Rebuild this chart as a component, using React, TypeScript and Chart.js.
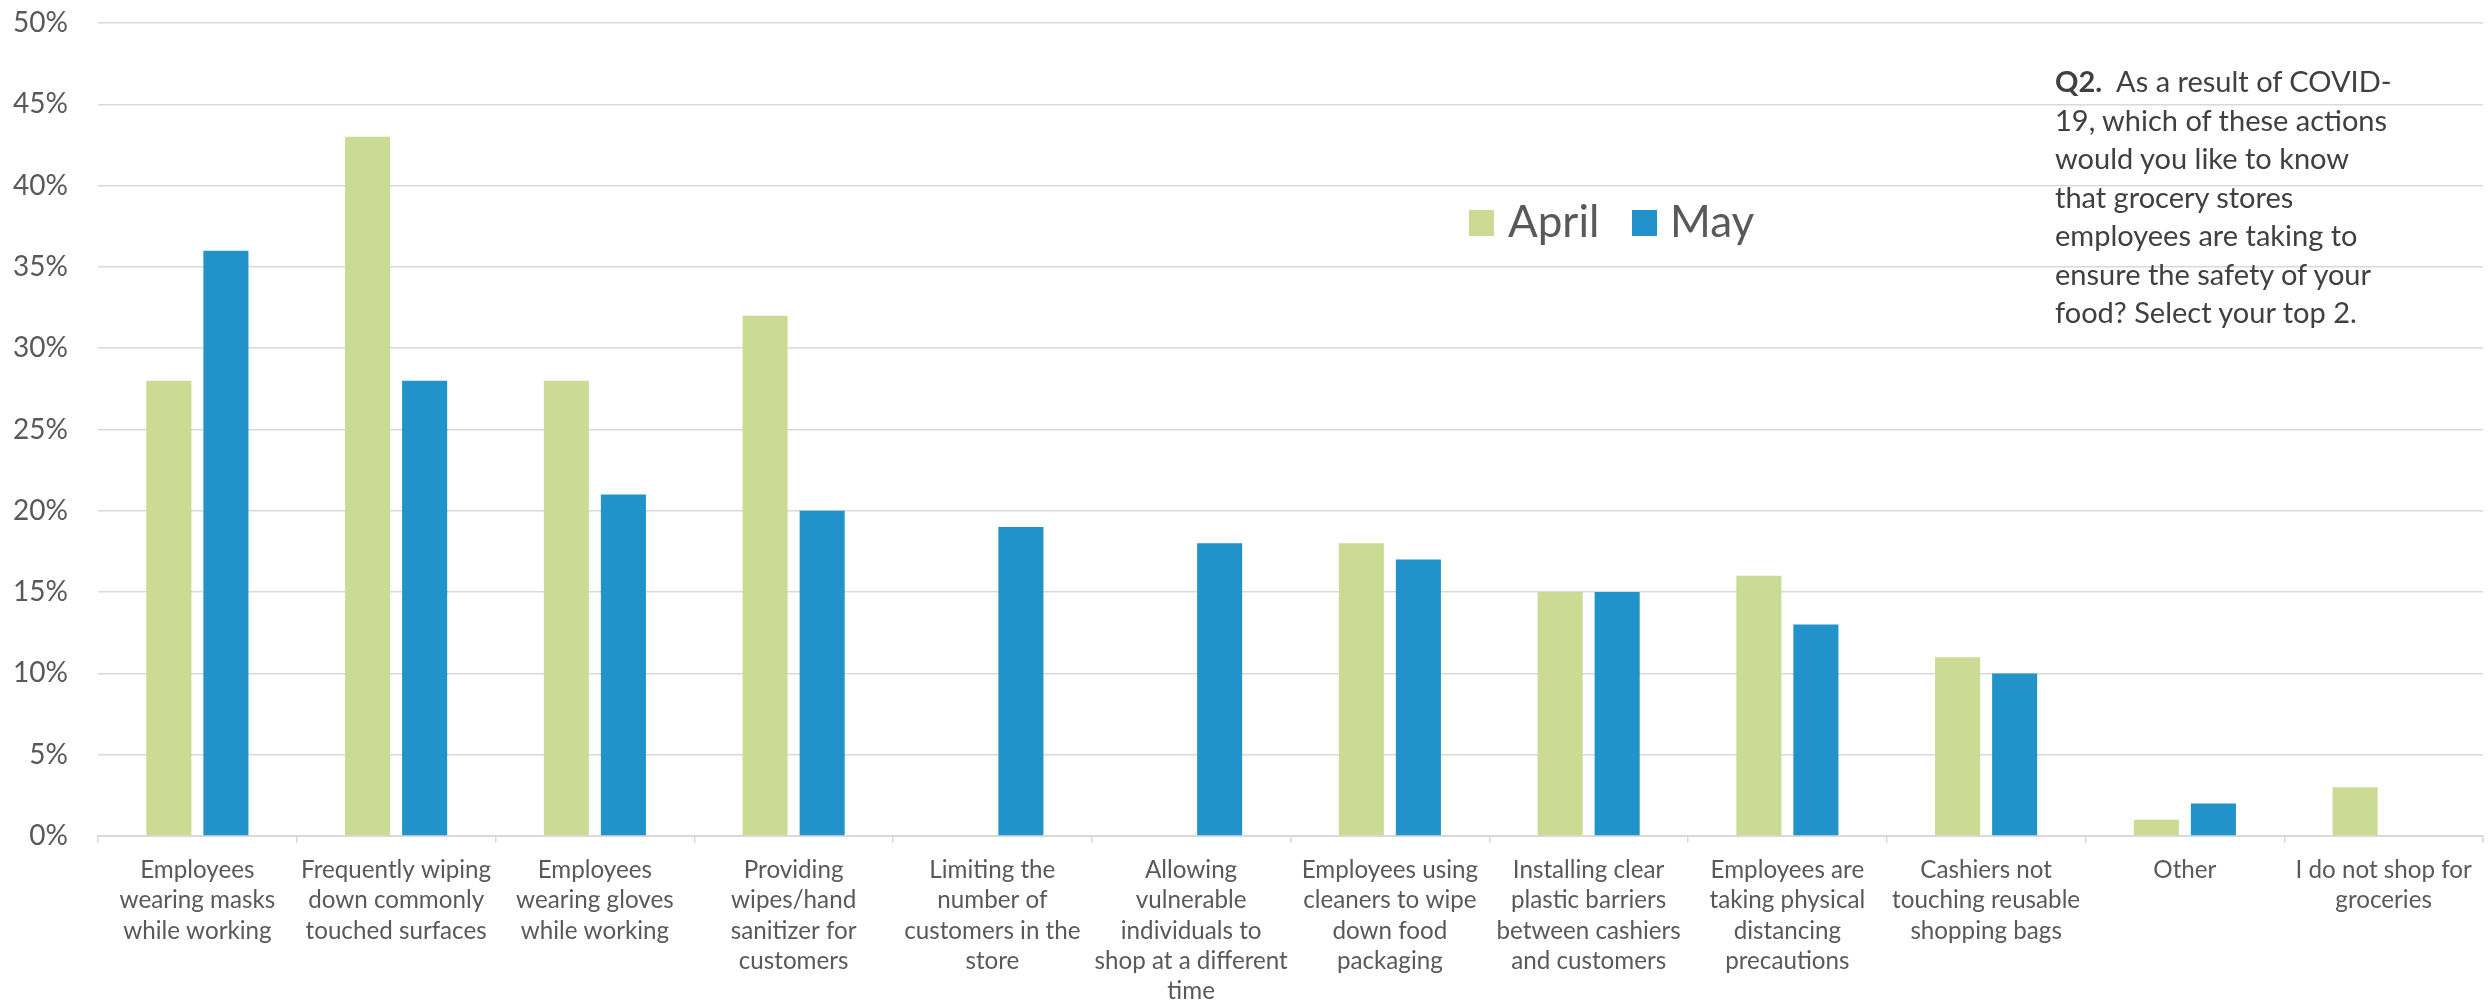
import React, { useEffect, useRef } from "react";
import { Chart, registerables } from "chart.js";

Chart.register(...registerables);

const categories: string[][] = [
  ["Employees", "wearing masks", "while working"],
  ["Frequently wiping", "down commonly", "touched surfaces"],
  ["Employees", "wearing gloves", "while working"],
  ["Providing", "wipes/hand", "sanitizer for", "customers"],
  ["Limiting the", "number of", "customers in the", "store"],
  ["Allowing", "vulnerable", "individuals to", "shop at a different", "time"],
  ["Employees using", "cleaners to wipe", "down food", "packaging"],
  ["Installing clear", "plastic barriers", "between cashiers", "and customers"],
  ["Employees are", "taking physical", "distancing", "precautions"],
  ["Cashiers not", "touching reusable", "shopping bags"],
  ["Other"],
  ["I do not shop for", "groceries"],
];

const aprilValues: (number | null)[] = [28, 43, 28, 32, null, null, 18, 15, 16, 11, 1, 3];
const mayValues: (number | null)[] = [36, 28, 21, 20, 19, 18, 17, 15, 13, 10, 2, null];

const seriesNames = ["April", "May"];
const seriesColors = ["#CBDB93", "#2192CA"];

const yMin = 0;
const yMax = 50;
const yStep = 5;

const questionLead = "Q2.";
const questionLines = [
  "  As a result of COVID-",
  "19, which of these actions",
  "would you like to know",
  "that grocery stores",
  "employees are taking to",
  "ensure the safety of your",
  "food? Select your top 2.",
];

const FONT = "Lato, 'Open Sans', sans-serif";
const TEXT = "#595959";
const GRID = "#D9D9D9";

export default function App() {
  const canvasRef = useRef<HTMLCanvasElement | null>(null);

  useEffect(() => {
    const canvas = canvasRef.current;
    if (!canvas) return;
    const chart = new Chart(canvas, {
      type: "bar",
      data: {
        labels: categories,
        datasets: [
          {
            label: seriesNames[0],
            data: aprilValues,
            backgroundColor: seriesColors[0],
            categoryPercentage: 0.574,
            barPercentage: 0.79,
          },
          {
            label: seriesNames[1],
            data: mayValues,
            backgroundColor: seriesColors[1],
            categoryPercentage: 0.574,
            barPercentage: 0.79,
          },
        ],
      },
      options: {
        responsive: false,
        animation: false,
        devicePixelRatio: 1,
        layout: { padding: { top: 23, right: 6, left: 0, bottom: 0 } },
        plugins: {
          legend: { display: false },
          tooltip: { enabled: false },
          title: { display: false },
        },
        scales: {
          x: {
            offset: true,
            grid: {
              offset: true,
              drawOnChartArea: false,
              drawTicks: true,
              tickLength: 7,
              color: GRID,
              lineWidth: 1.5,
            },
            border: { display: true, color: GRID, width: 2 },
            ticks: {
              autoSkip: false,
              maxRotation: 0,
              minRotation: 0,
              padding: 12,
              color: TEXT,
              font: { family: FONT, size: 24.2, lineHeight: 1.255 },
            },
            afterFit: (scale: any) => {
              scale.height = 168;
            },
          },
          y: {
            min: yMin,
            max: yMax,
            grid: {
              color: GRID,
              lineWidth: 1.5,
              drawTicks: true,
              tickLength: 30,
              tickColor: "rgba(0,0,0,0)",
            },
            border: { display: false },
            ticks: {
              stepSize: yStep,
              padding: 0,
              color: TEXT,
              font: { family: FONT, size: 28 },
              callback: (v: any) => `${v}%`,
            },
            afterFit: (scale: any) => {
              scale.width = 98;
            },
          },
        },
      },
    });
    return () => chart.destroy();
  }, []);

  const legendItems = [
    { name: seriesNames[0], color: seriesColors[0], boxLeft: 1469, textLeft: 1508 },
    { name: seriesNames[1], color: seriesColors[1], boxLeft: 1632, textLeft: 1670 },
  ];

  return (
    <div
      style={{
        position: "fixed",
        left: 0,
        top: 0,
        width: 2489,
        height: 1004,
        background: "#ffffff",
        overflow: "hidden",
      }}
    >
      <canvas
        ref={canvasRef}
        width={2489}
        height={1004}
        style={{ position: "absolute", left: 0, top: 0, width: 2489, height: 1004 }}
      />
      {legendItems.map((it) => (
        <React.Fragment key={it.name}>
          <div
            style={{
              position: "absolute",
              left: it.boxLeft,
              top: 210,
              width: 25,
              height: 26,
              background: it.color,
            }}
          />
          <div
            style={{
              position: "absolute",
              left: it.textLeft,
              top: 195,
              fontFamily: FONT,
              fontSize: 44,
              lineHeight: "50px",
              color: TEXT,
              whiteSpace: "nowrap",
            }}
          >
            {it.name}
          </div>
        </React.Fragment>
      ))}
      <div
        style={{
          position: "absolute",
          left: 2055,
          top: 62,
          fontFamily: FONT,
          fontSize: 29,
          lineHeight: "38.5px",
          color: "#404040",
          whiteSpace: "pre",
        }}
      >
        {questionLines.map((line, i) => (
          <div key={i}>
            {i === 0 ? <b>{questionLead}</b> : null}
            {line}
          </div>
        ))}
      </div>
    </div>
  );
}
